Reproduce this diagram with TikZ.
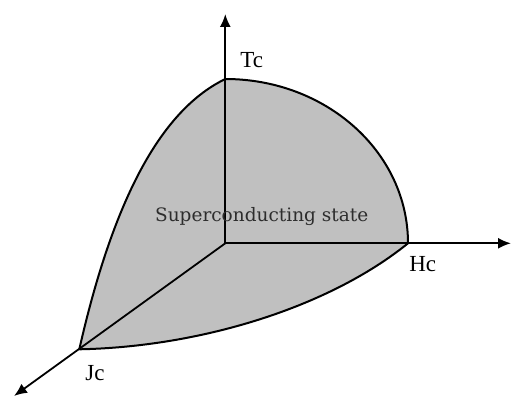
\documentclass[tikz,border=0pt]{standalone}
\usepackage{fontspec}
\setmainfont{Liberation Serif}
\newfontfamily\regionfont{DejaVu Serif}
\usetikzlibrary{arrows.meta}
\definecolor{scgray}{RGB}{192,192,192}
\definecolor{scink}{RGB}{45,45,45}
\tikzset{
  axis/.style={line width=1.8pt, -{Latex[length=13pt,width=11pt]}},
  edge/.style={line width=2pt},
  critlabel/.style={font=\fontsize{23}{25}\selectfont, inner sep=0pt},
}

\begin{document}
\begin{tikzpicture}[x=1pt, y=-1pt]
    \useasboundingbox (0,0) rectangle (511,396);

    % critical points and axis ends
    \coordinate (O)    at (225.3,243.3);
    \coordinate (Tc)   at (225.3,79);
    \coordinate (Hc)   at (408,243.3);
    \coordinate (Jc)   at (79.3,349.3);
    \coordinate (Tend) at (225.3,14);
    \coordinate (Hend) at (511,243.3);
    \coordinate (Jend) at (14,396);

    % superconducting region
    \fill[scgray] (Tc) .. controls (326,79) and (408,152) .. (Hc)
        .. controls (328,308) and (199,347) .. (Jc)
        .. controls (110,214) and (155,113) .. cycle;

    % boundary curves
    \draw[edge] (Tc) .. controls (326,79) and (408,152) .. (Hc);
    \draw[edge] (Hc) .. controls (328,308) and (199,347) .. (Jc);
    \draw[edge] (Jc) .. controls (110,214) and (155,113) .. (Tc);

    % axes
    \draw[axis] (O) -- (Tend);
    \draw[axis] (O) -- (Hend);
    \draw[axis] (O) -- (Jend);

    % labels
    \node[critlabel] (tlab) at (251.7,60) {Tc};
    \node[critlabel] (hlab) at (422.7,264) {Hc};
    \node[critlabel] (jlab) at (95,373.3) {Jc};
    \node[font=\regionfont\fontsize{18.5}{22}\selectfont, text=scink, inner sep=0pt]
        (state) at (261.7,216.7) {Superconducting state};
\end{tikzpicture}
\end{document}
